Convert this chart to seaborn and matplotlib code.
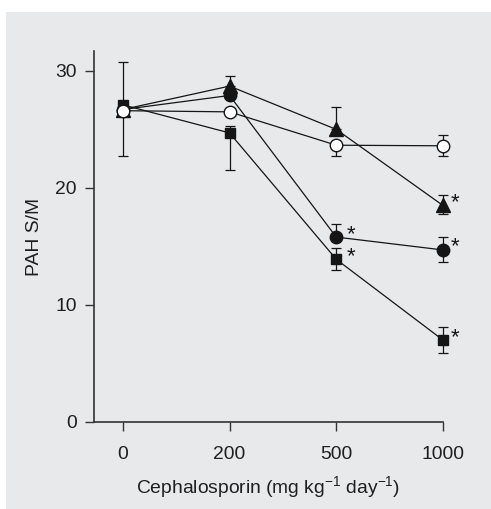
import matplotlib
matplotlib.use("Agg")
import matplotlib.pyplot as plt
import seaborn as sns
import numpy as np
import pandas as pd
from matplotlib.patches import Rectangle

# ---- data ----
doses = ["0", "200", "500", "1000"]
open_circle = [26.6, 26.5, 23.65, 23.6]
open_lo = [3.9, 0.0, 0.95, 0.9]
open_hi = [4.2, 0.0, 0.0, 0.9]
triangle = [26.7, 28.7, 25.0, 18.5]
tri_lo = [0.0, 0.0, 0.0, 0.7]
tri_hi = [0.0, 0.9, 1.9, 0.9]
filled_circle = [26.7, 27.9, 15.8, 14.7]
fc_lo = [0.0, 0.0, 0.0, 1.0]
fc_hi = [0.0, 0.0, 1.1, 1.1]
square = [27.1, 24.7, 13.9, 7.0]
sq_lo = [0.0, 3.2, 0.9, 1.1]
sq_hi = [0.0, 0.6, 1.0, 1.1]
stars = {"triangle": [3], "filled_circle": [2, 3], "square": [2, 3]}
y_ticks = [0, 10, 20, 30]

sns.set_style("ticks")
plt.rcParams["font.family"] = ["Liberation Sans", "DejaVu Sans"]
plt.rcParams["mathtext.fontset"] = "custom"
plt.rcParams["mathtext.rm"] = "Liberation Sans"

W, H = 491, 509
fig = plt.figure(figsize=(W / 100, H / 100), dpi=100)
fig.patch.set_facecolor("white")
bg = "#e8e9eb"
rect = Rectangle((6 / W, 0), 1, (H - 12) / H, transform=fig.transFigure,
                 facecolor=bg, edgecolor="none", zorder=-10)
fig.patches.append(rect)
ax = fig.add_axes([94 / W, (H - 422) / H, 349 / W, 371 / H])
ax.set_zorder(5)
ax.set_facecolor(bg)

ink = "#151515"
fs = 13.9
x = np.arange(len(doses))
series = [
    ("open_circle", open_circle, open_lo, open_hi, "o", "white", 9.0),
    ("triangle", triangle, tri_lo, tri_hi, "^", ink, 10.0),
    ("filled_circle", filled_circle, fc_lo, fc_hi, "o", ink, 9.0),
    ("square", square, sq_lo, sq_hi, "s", ink, 7.3),
]
order = {"open_circle": 5, "triangle": 4, "filled_circle": 3, "square": 2}
for name, vals, lo, hi, mk, fc, ms in series:
    df = pd.DataFrame({"x": x, "y": vals})
    eb = ax.errorbar(x, vals, yerr=[lo, hi], fmt="none", ecolor=ink,
                     elinewidth=0.9, capsize=3.8, capthick=0.9,
                     zorder=order[name] - 0.5)
    for art in eb.lines[1] + eb.lines[2]:
        art.set_clip_on(False)
    sns.lineplot(data=df, x="x", y="y", ax=ax, color=ink, linewidth=0.9,
                 marker=mk, markersize=ms, markerfacecolor=fc,
                 markeredgecolor=ink, markeredgewidth=1.0,
                 zorder=order[name], clip_on=False)
    for i in stars.get(name, []):
        dx = 10.5 if i == 2 else 8.5
        ax.annotate("*", (x[i], vals[i]), xytext=(dx, 2.0), textcoords="offset points",
                    fontsize=16, ha="center", va="center", color=ink)

ax.set_xlim(-0.27, 3.0)
ax.set_ylim(0, 31.7)
ax.set_xticks(x)
ax.set_xticklabels(doses)
ax.set_yticks(y_ticks)
ax.tick_params(axis="both", labelsize=fs, length=6.5, width=1.0, color="#333333",
               labelcolor="#1f1f1f", direction="out")
ax.tick_params(axis="y", pad=6)
ax.tick_params(axis="x", pad=11)
for s in ["top", "right"]:
    ax.spines[s].set_visible(False)
for s in ["left", "bottom"]:
    ax.spines[s].set_color("#333333")
    ax.spines[s].set_linewidth(1.2)
ax.set_xlabel("Cephalosporin (mg kg$^{\\mathregular{-1}}$ day$^{\\mathregular{-1}}$)",
              fontsize=fs, color="#1f1f1f", labelpad=8)
ax.set_ylabel("PAH S/M", fontsize=fs, color="#1f1f1f", labelpad=9)

fig.savefig("out.png", dpi=100, facecolor=fig.get_facecolor())
